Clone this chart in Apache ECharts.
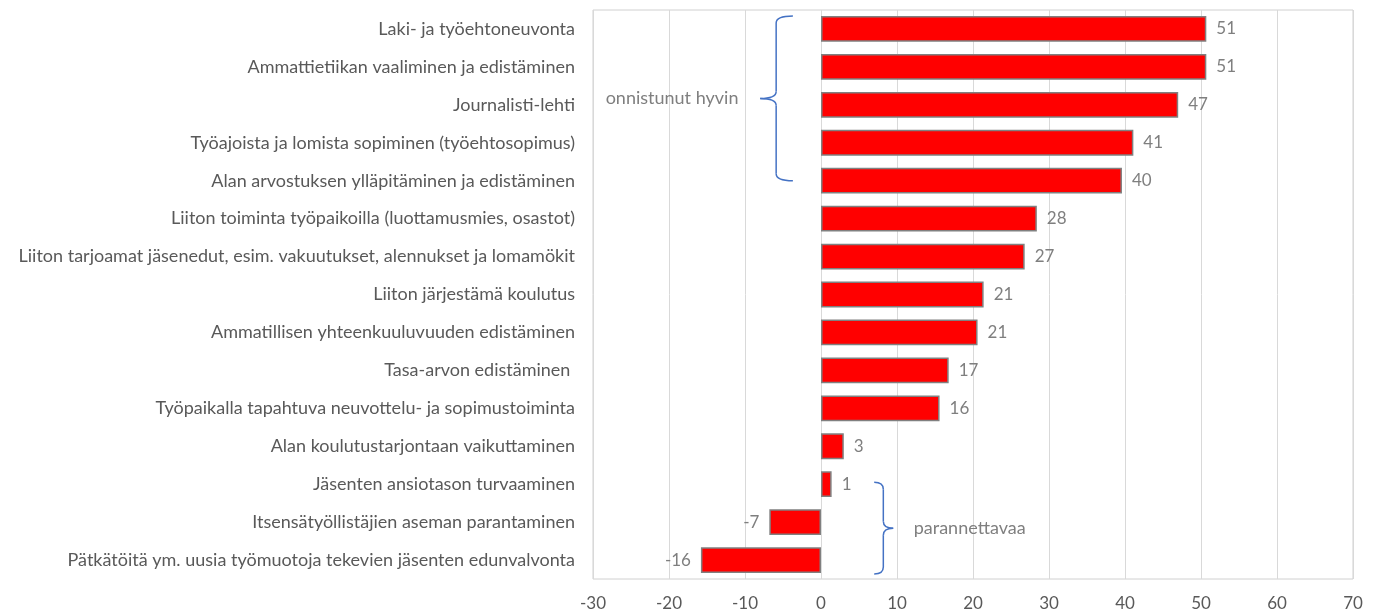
<!DOCTYPE html>
<html>
<head>
<meta charset="utf-8">
<script src="https://cdn.jsdelivr.net/npm/echarts@6/dist/echarts.min.js"></script>
<style>
html,body{margin:0;padding:0;background:#fff;}
#main{width:1377px;height:614px;}
</style>
</head>
<body>
<div id="main"></div>
<script>
const categories = [
  "Laki- ja työehtoneuvonta",
  "Ammattietiikan vaaliminen ja edistäminen",
  "Journalisti-lehti",
  "Työajoista ja lomista sopiminen (työehtosopimus)",
  "Alan arvostuksen ylläpitäminen ja edistäminen",
  "Liiton toiminta työpaikoilla (luottamusmies, osastot)",
  "Liiton tarjoamat jäsenedut, esim. vakuutukset, alennukset ja lomamökit",
  "Liiton järjestämä koulutus",
  "Ammatillisen yhteenkuuluvuuden edistäminen",
  "Tasa-arvon edistäminen ",
  "Työpaikalla tapahtuva neuvottelu- ja sopimustoiminta",
  "Alan koulutustarjontaan vaikuttaminen",
  "Jäsenten ansiotason turvaaminen",
  "Itsensätyöllistäjien aseman parantaminen",
  "Pätkätöitä ym. uusia työmuotoja tekevien jäsenten edunvalvonta"
];
const values = [50.7, 50.7, 47.0, 41.1, 39.6, 28.4, 26.8, 21.4, 20.6, 16.8, 15.6, 3.0, 1.4, -6.8, -15.8];
const xTicks = { min: -30, max: 70, interval: 10 };
const annotations = [
  { text: "onnistunut hyvin", from: 0, to: 4, side: "left" },
  { text: "parannettavaa", from: 12, to: 14, side: "right" }
];

const FONT = "Lato";
const TXT = "#595959";
const chart = echarts.init(document.getElementById('main'));

const seriesData = values.map(v => ({
  value: v,
  label: { position: v < 0 ? 'left' : 'right' }
}));

chart.setOption({
  animation: false,
  grid: { left: 593, right: 24, top: 10, bottom: 35, show: true, borderColor: '#d0d0d0', borderWidth: 1 },
  xAxis: {
    type: 'value', min: xTicks.min, max: xTicks.max, interval: xTicks.interval,
    axisLine: { show: false },
    axisTick: { show: false },
    splitLine: { lineStyle: { color: '#d9d9d9', width: 1 } },
    axisLabel: { color: TXT, fontFamily: FONT, fontSize: 17, margin: 16 }
  },
  yAxis: {
    type: 'category', data: categories, inverse: true,
    axisLine: { show: false },
    axisTick: { show: false },
    axisLabel: { color: TXT, fontFamily: FONT, fontSize: 18, margin: 18 }
  },
  series: [{
    type: 'bar',
    data: seriesData,
    barCategoryGap: '32%',
    itemStyle: { color: '#ff0000', borderColor: '#808080', borderWidth: 1.5 },
    label: {
      show: true, color: '#7f7f7f', fontFamily: FONT, fontSize: 17, distance: 10,
      formatter: p => Math.round(p.value)
    }
  }]
});

function braceElements(xOuter, xInner, xTip, yTop, yBot) {
  const ym = (yTop + yBot) / 2;
  const r = 7;
  const st = { stroke: '#4472c4', lineWidth: 1.5, fill: null };
  const curve = (x1, y1, cx, cy, x2, y2) => ({
    type: 'bezierCurve', z: 10,
    shape: { x1, y1, cpx1: cx, cpy1: cy, x2, y2 }, style: st
  });
  const line = (x1, y1, x2, y2) => ({ type: 'line', z: 10, shape: { x1, y1, x2, y2 }, style: st });
  return [
    curve(xOuter, yTop, xInner, yTop, xInner, yTop + r),
    line(xInner, yTop + r, xInner, ym - r),
    curve(xInner, ym - r, xInner, ym, xTip, ym),
    curve(xTip, ym, xInner, ym, xInner, ym + r),
    line(xInner, ym + r, xInner, yBot - r),
    curve(xInner, yBot - r, xInner, yBot, xOuter, yBot)
  ];
}

function drawAnnotations() {
  const px = v => chart.convertToPixel({ xAxisIndex: 0 }, v);
  const py = i => chart.convertToPixel({ yAxisIndex: 0 }, i);
  const band = py(1) - py(0);
  let elements = [];
  annotations.forEach(a => {
    const y0 = py(a.from), y1 = py(a.to);
    let yTop, yBot, textX, align;
    if (a.side === 'left') {
      yTop = y0 - band * 0.34; yBot = y1;
      elements = elements.concat(braceElements(px(-3.7), px(-5.9), px(-8), yTop, yBot));
      textX = (px(-28.9) + px(-10.3)) / 2;
      align = 'center';
    } else {
      yTop = y0 - band * 0.05; yBot = y1 + band * 0.37;
      elements = elements.concat(braceElements(px(7), px(8.2), px(9.5), yTop, yBot));
      textX = px(12.2);
      align = 'left';
    }
    elements.push({
      type: 'text', x: textX, y: (yTop + yBot) / 2, z: 10,
      style: { text: a.text, fill: '#7f7f7f', font: `18px ${FONT}`, align: align, verticalAlign: 'middle' }
    });
  });
  chart.setOption({ graphic: elements });
}
drawAnnotations();
</script>
</body>
</html>
